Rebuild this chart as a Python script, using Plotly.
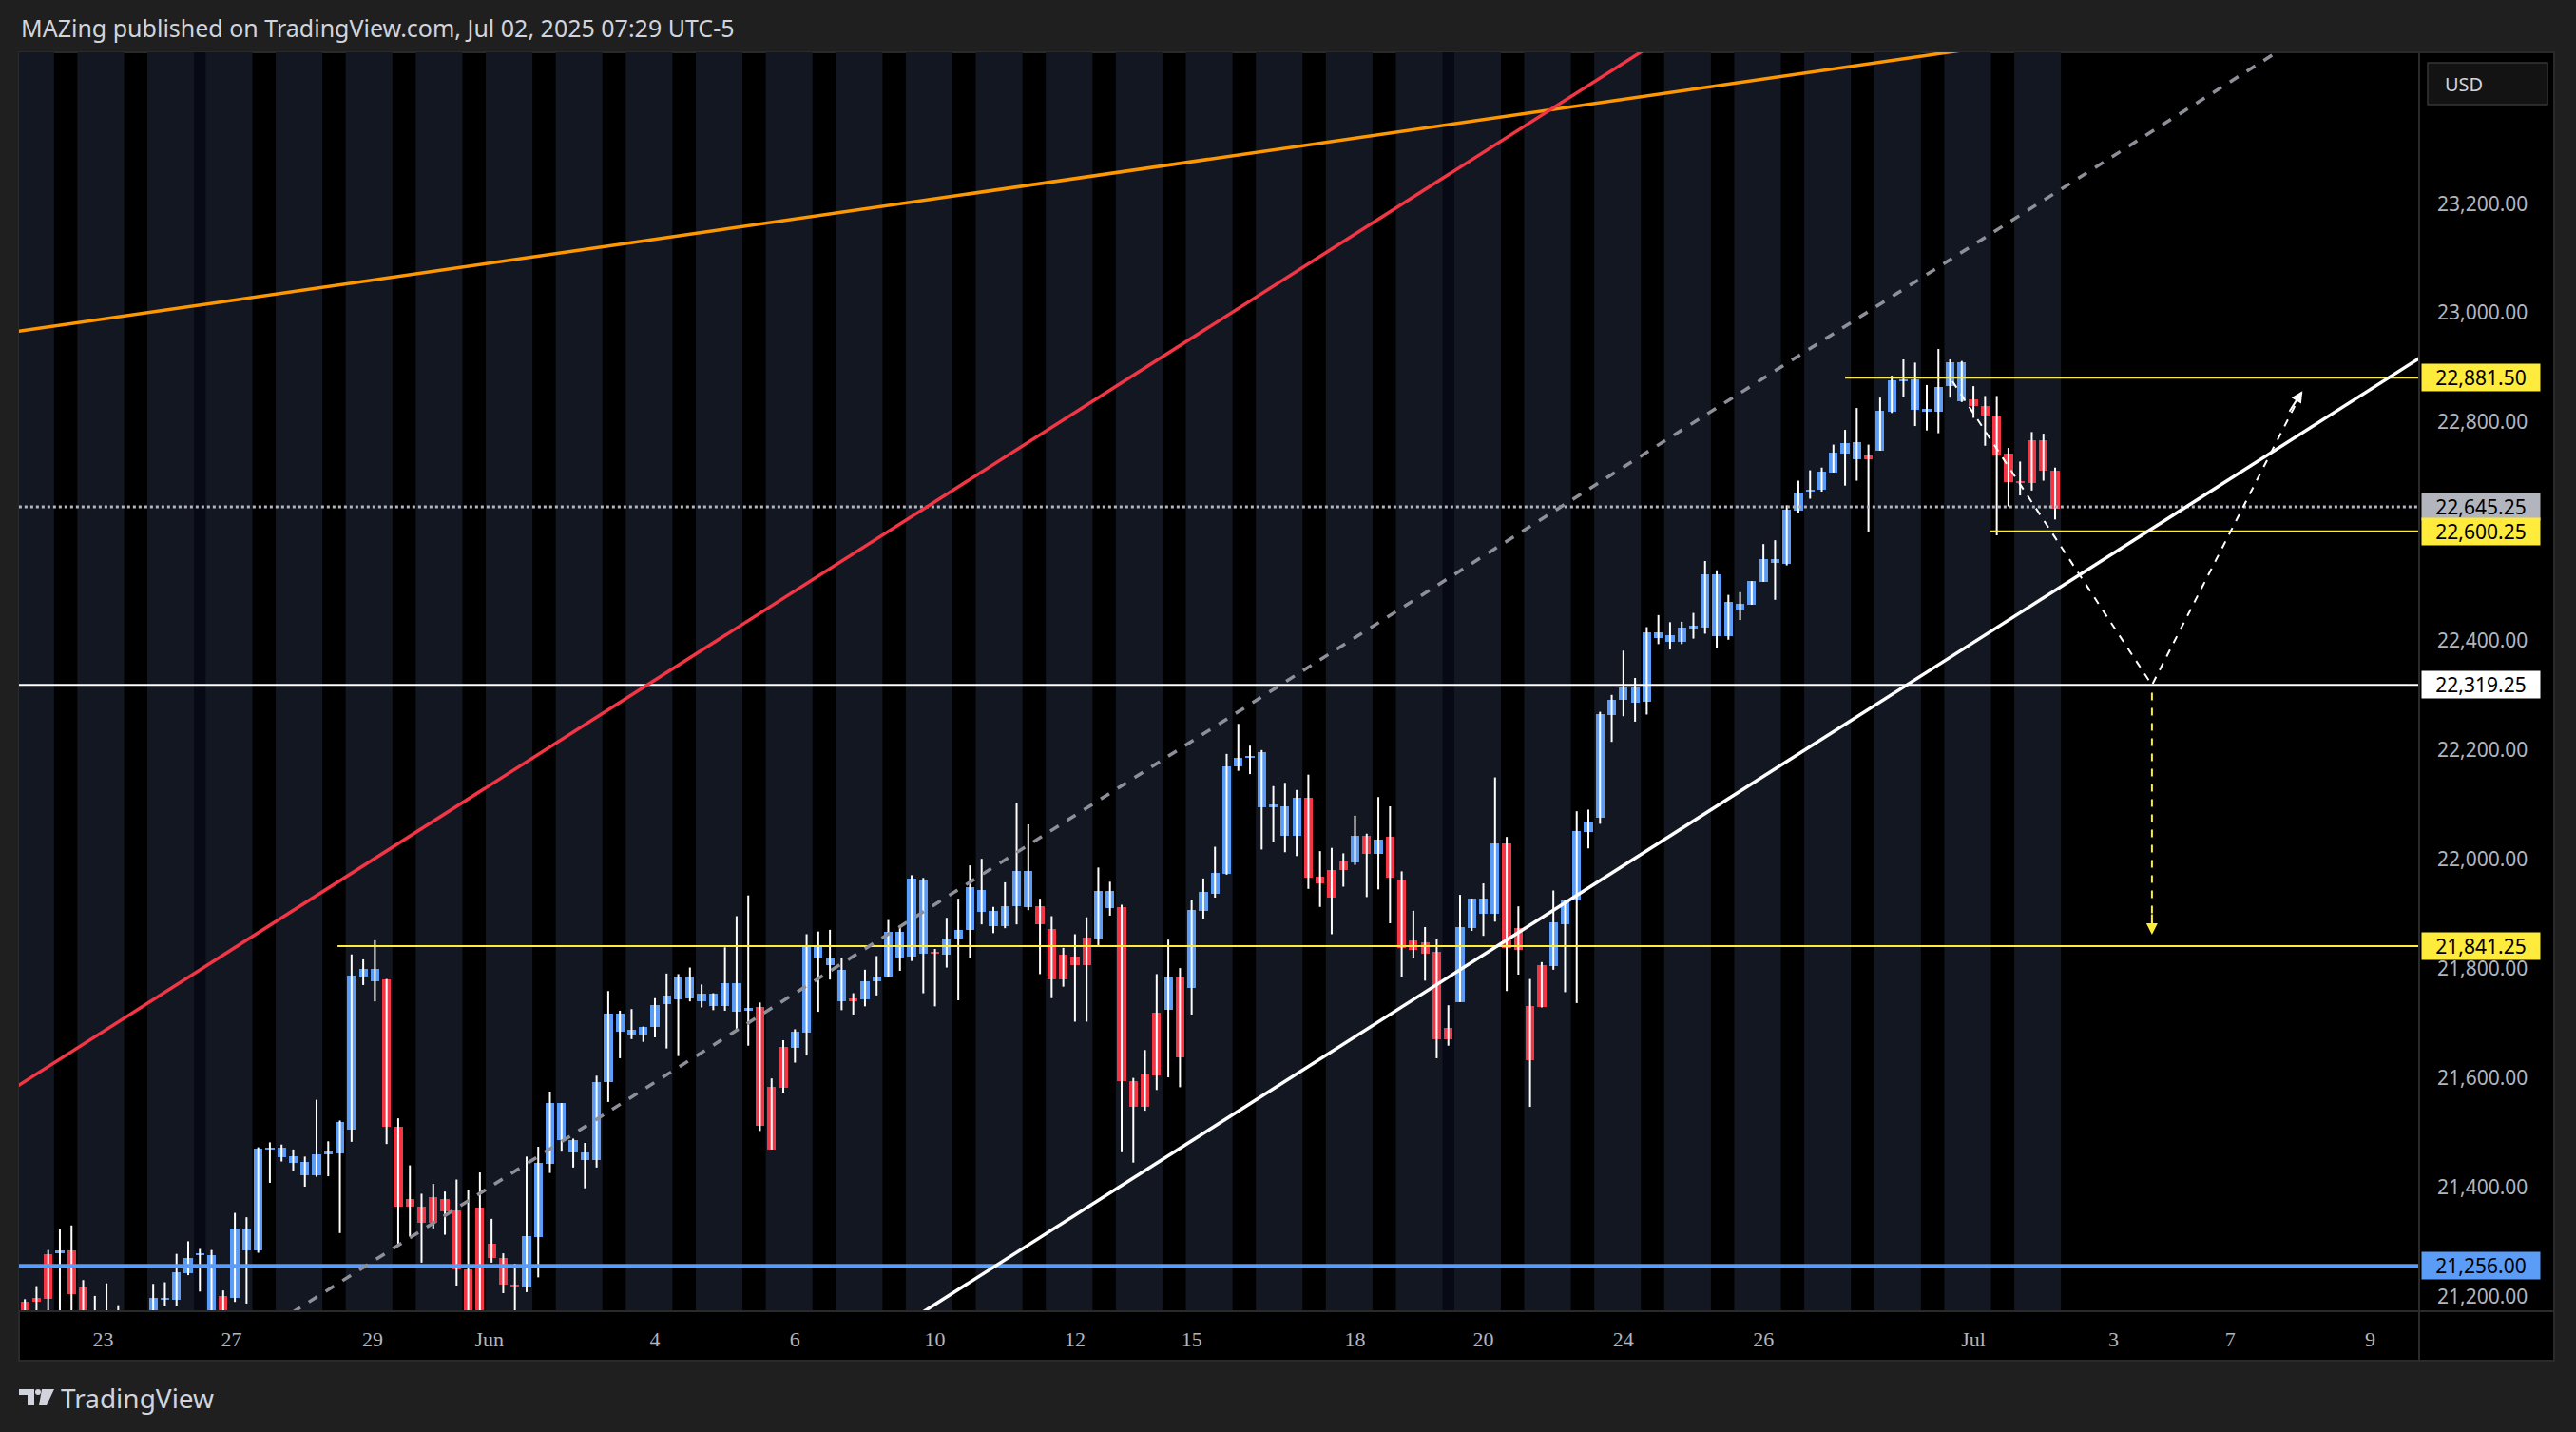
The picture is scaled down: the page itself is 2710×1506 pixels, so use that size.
import plotly.graph_objects as go

# 4h candles, NQ-style futures, May 22 -> Jul 2 2025
opens = [21190, 21197, 21278, 21279, 21285, 21216, 21170, 21173, 21173, 21140, 21100, 21150, 21194, 21194, 21242, 21276, 21170, 21200, 21198, 21285,
         21284, 21468, 21455, 21444, 21422, 21422, 21461, 21462, 21506, 21786, 21777, 21780, 21510, 21378, 21364, 21381, 21379, 21357, 21250, 21362,
         21296, 21271, 21222, 21216, 21309, 21443, 21486, 21463, 21449, 21449, 21592, 21684, 21680, 21680, 21694, 21735, 21743, 21746, 21741, 21731,
         21731, 21721, 21723, 21729, 21583, 21656, 21655, 21683, 21818, 21806, 21740, 21745, 21743, 21777, 21785, 21821, 21822, 21827, 21830, 21825,
         21855, 21870, 21904, 21878, 21878, 21915, 21913, 21915, 21872, 21826, 21822, 21857, 21854, 21911, 21913, 21595, 21606, 21720, 21725, 21783,
         21764, 21906, 21937, 21974, 22170, 22185, 22096, 22096, 22043, 22043, 22112, 21969, 21981, 21996, 21995, 22043, 22010, 22041, 21963, 21851,
         21849, 21830, 21691, 21739, 21874, 21901, 21901, 22029, 21874, 21731, 21807, 21804, 21881, 21924, 22050, 22076, 22264, 22292, 22287, 22289,
         22405, 22398, 22398, 22423, 22424, 22409, 22409, 22458, 22466, 22508, 22542, 22540, 22638, 22673, 22677, 22708, 22742, 22733, 22740, 22748,
         22820, 22875, 22823, 22819, 22819, 22866, 22839, 22841, 22830, 22810, 22742, 22693, 22767, 22767, 22712]
highs = [21195, 21219, 21285, 21323, 21330, 21230, 21201, 21224, 21184, 21160, 21165, 21223, 21226, 21278, 21301, 21287, 21285, 21211, 21353, 21345,
         21473, 21482, 21478, 21469, 21456, 21560, 21484, 21522, 21826, 21817, 21852, 21781, 21526, 21440, 21388, 21406, 21392, 21414, 21394, 21427,
         21342, 21279, 21260, 21456, 21474, 21575, 21554, 21489, 21481, 21604, 21759, 21723, 21726, 21694, 21746, 21791, 21790, 21802, 21771, 21755,
         21839, 21896, 21934, 21738, 21599, 21669, 21689, 21863, 21868, 21871, 21819, 21755, 21798, 21823, 21889, 21876, 21971, 21966, 21836, 21893,
         21928, 21989, 22001, 21913, 21958, 22104, 22064, 21928, 21896, 21838, 21863, 21894, 21985, 21959, 21917, 21600, 21651, 21790, 21853, 21801,
         21925, 21965, 22023, 22193, 22248, 22208, 22200, 22134, 22140, 22127, 22155, 22015, 22021, 22011, 22080, 22047, 22114, 22097, 21978, 21906,
         21876, 21855, 21733, 21935, 21928, 21956, 22150, 22041, 21914, 21781, 21812, 21943, 21925, 22088, 22091, 22270, 22301, 22382, 22332, 22425,
         22447, 22434, 22435, 22451, 22546, 22529, 22484, 22489, 22509, 22577, 22584, 22648, 22693, 22712, 22717, 22759, 22786, 22826, 22759, 22845,
         22885, 22915, 22909, 22868, 22934, 22915, 22912, 22866, 22848, 22848, 22753, 22728, 22782, 22779, 22717]
lows = [21100, 21170, 21170, 21170, 21170, 21100, 21100, 21100, 21100, 21080, 21060, 21130, 21183, 21183, 21239, 21209, 21150, 21140, 21190, 21187,
        21280, 21408, 21447, 21429, 21401, 21419, 21420, 21316, 21483, 21770, 21740, 21479, 21295, 21310, 21262, 21324, 21313, 21220, 21120, 21140,
        21262, 21206, 21170, 21208, 21235, 21426, 21465, 21436, 21398, 21436, 21556, 21636, 21671, 21666, 21674, 21654, 21640, 21740, 21729, 21724,
        21723, 21690, 21659, 21503, 21469, 21573, 21628, 21641, 21721, 21780, 21724, 21716, 21731, 21751, 21785, 21796, 21814, 21755, 21731, 21802,
        21742, 21819, 21881, 21865, 21874, 21881, 21907, 21790, 21746, 21767, 21703, 21703, 21842, 21897, 21464, 21445, 21540, 21578, 21601, 21583,
        21716, 21891, 21930, 21972, 22162, 22156, 22018, 22032, 22013, 22006, 21946, 21913, 21863, 21950, 21990, 21931, 21945, 21883, 21785, 21820,
        21778, 21636, 21659, 21739, 21869, 21860, 21886, 21759, 21789, 21547, 21729, 21798, 21757, 21737, 22020, 22065, 22215, 22262, 22252, 22265,
        22394, 22384, 22394, 22404, 22413, 22387, 22402, 22438, 22466, 22508, 22475, 22538, 22633, 22660, 22673, 22708, 22684, 22693, 22600, 22748,
        22817, 22846, 22793, 22785, 22780, 22845, 22837, 22808, 22757, 22593, 22646, 22666, 22675, 22693, 22622]
closes = [21150, 21191, 21196, 21285, 21205, 21150, 21150, 21140, 21140, 21120, 21150, 21198, 21198, 21244, 21271, 21278, 21275, 21160, 21325, 21325,
          21470, 21470, 21473, 21456, 21446, 21461, 21464, 21519, 21788, 21799, 21799, 21510, 21364, 21364, 21334, 21334, 21355, 21250, 21150, 21170,
          21270, 21222, 21218, 21310, 21444, 21554, 21554, 21486, 21463, 21593, 21717, 21717, 21688, 21694, 21734, 21751, 21785, 21785, 21755, 21755,
          21774, 21774, 21728, 21513, 21469, 21582, 21684, 21839, 21839, 21820, 21797, 21740, 21777, 21786, 21867, 21867, 21965, 21963, 21827, 21856,
          21871, 21949, 21944, 21906, 21915, 21979, 21979, 21881, 21780, 21780, 21806, 21806, 21943, 21943, 21594, 21548, 21548, 21604, 21783, 21637,
          21907, 21941, 21976, 22171, 22186, 22187, 22197, 22098, 22097, 22112, 21967, 21956, 21930, 21980, 22043, 22010, 22036, 21967, 21838, 21835,
          21827, 21671, 21671, 21876, 21928, 21928, 22029, 21838, 21835, 21633, 21729, 21885, 21925, 22051, 22070, 22265, 22292, 22314, 22314, 22416,
          22416, 22411, 22425, 22426, 22521, 22522, 22472, 22467, 22509, 22549, 22549, 22640, 22672, 22677, 22709, 22744, 22762, 22764, 22733, 22821,
          22876, 22879, 22879, 22824, 22865, 22910, 22910, 22829, 22813, 22740, 22690, 22688, 22688, 22711, 22642]

# overnight session candles (black background), weekend-ish darker candles
night_starts = [3, 9, 20, 26, 32, 38, 44, 50, 56, 62, 68, 74, 80, 86, 92, 98, 104, 110, 116,
                127, 133, 139, 145, 151, 157, 163, 169]
dark_days = [15, 122]

tick_pos = [6.7, 17.7, 29.8, 39.8, 54, 66, 78, 90, 100, 114, 125, 137, 149, 167, 179, 189, 201]
tick_text = ["23", "27", "29", "Jun", "4", "6", "10", "12", "15", "18", "20", "24", "26", "Jul", "3", "7", "9"]
price_ticks = [21200, 21400, 21600, 21800, 22000, 22200, 22400, 22800, 23000, 23200]

# drawings: (index, price) anchor pairs
orange_line = ([-1, 205], [22965, 23601])
red_line = ([-1, 150], [21580, 23634])
gray_dash = ([20, 205], [21131, 23640])
trend_line = ([74, 205.5], [21131, 22921])
projection = ([165.2, 182.3, 195.2], [22875, 22319, 22857])
target_drop = ([182.3, 182.3], [22305, 21862])

levels_yellow = [(26.8, 21841.25), (156, 22881.5), (168.4, 22600.25)]
level_white = 22319.25
level_blue = 21256.0
last_price = 22645.25

UP = "#5b9cf6"
DOWN = "#f23645"
NAVY = "#131722"
W, H = 2710, 1506
L, R, T, B = 20, 2545, 55, 1379
XMAX = 205.2


def px(x):
    return (x - L) / (R - L)


def py(y):
    return (B - y) / (B - T)


n = len(closes)
fig = go.Figure()

# wicks
wx, wy = [], []
for i in range(n):
    wx += [i, i, None]
    wy += [lows[i], highs[i], None]
fig.add_trace(go.Scatter(x=wx, y=wy, mode="lines", line=dict(color="white", width=2),
                         hoverinfo="skip", showlegend=False))

# bodies
base = [min(o, c) for o, c in zip(opens, closes)]
size = [max(abs(c - o), 4) for o, c in zip(opens, closes)]
colors = [UP if c >= o else DOWN for o, c in zip(opens, closes)]
fig.add_trace(go.Bar(x=list(range(n)), y=size, base=base, width=0.75,
                     marker=dict(color=colors, line=dict(width=0)), showlegend=False))


def line(xy, color, width, dash="solid"):
    fig.add_trace(go.Scatter(x=xy[0], y=xy[1], mode="lines", line=dict(color=color, width=width, dash=dash),
                             hoverinfo="skip", showlegend=False))


line(([-1, XMAX + 1], [level_blue] * 2), UP, 4)
line(([-1, XMAX + 1], [level_white] * 2), "white", 2)
line(([-1, XMAX + 1], [last_price] * 2), "#b2b5be", 3, "dot")
for x0, lv in levels_yellow:
    line(([x0, XMAX + 1], [lv, lv]), "#ffeb3b", 2)
line(orange_line, "#ff9800", 3.5)
line(red_line, "#f23645", 3.5)
line(gray_dash, "#8d9099", 3.5, "dash")
line(trend_line, "white", 3.5)
line(projection, "white", 2, "8px,8px")
line(target_drop, "#ffeb3b", 2, "8px,8px")

# background session bands
shapes = []
shapes.append(dict(type="rect", xref="paper", yref="paper", x0=px(L), x1=px(2687), y0=py(T), y1=py(1431),
                   fillcolor="black", line=dict(color="#2a2a2a", width=2), layer="below"))
night = set()
for s in night_starts:
    night.update([s, s + 1])
i = 0
while i < n:
    if i in night:
        i += 1
        continue
    j = i
    while j + 1 < n and (j + 1) not in night:
        j += 1
    shapes.append(dict(type="rect", xref="x", yref="paper", x0=i - 0.5, x1=j + 0.5, y0=0, y1=1,
                       fillcolor=NAVY, line=dict(width=0), layer="below"))
    i = j + 1
for d in dark_days:
    shapes.append(dict(type="rect", xref="x", yref="paper", x0=d - 0.5, x1=d + 0.5, y0=0, y1=1,
                       fillcolor="#070a14", line=dict(width=0), layer="below"))
# panel separators
shapes.append(dict(type="line", xref="paper", yref="paper", x0=1, x1=1, y0=py(T), y1=py(1431),
                   line=dict(color="#2a2a2a", width=2)))
shapes.append(dict(type="line", xref="paper", yref="paper", x0=0, x1=px(2687), y0=0, y1=0,
                   line=dict(color="#2a2a2a", width=2)))
# USD box
shapes.append(dict(type="rect", xref="paper", yref="paper", x0=px(2554), x1=px(2680), y0=py(66), y1=py(110),
                   fillcolor="#131313", line=dict(color="#363636", width=1.5)))
# TradingView logo mark
shapes.append(dict(type="path", xref="paper", yref="paper",
                   path=f"M {px(20)} {py(1461)} L {px(36)} {py(1461)} L {px(36)} {py(1478)} L {px(29)} {py(1478)} "
                        f"L {px(29)} {py(1467)} L {px(20)} {py(1467)} Z",
                   fillcolor="#d1d4dc", line=dict(width=0)))
shapes.append(dict(type="path", xref="paper", yref="paper",
                   path=f"M {px(44)} {py(1461)} L {px(57)} {py(1461)} L {px(49)} {py(1478)} L {px(41)} {py(1478)} Z",
                   fillcolor="#d1d4dc", line=dict(width=0)))
shapes.append(dict(type="circle", xref="paper", yref="paper", x0=px(37), x1=px(43), y0=py(1467), y1=py(1461),
                   fillcolor="#d1d4dc", line=dict(width=0)))

FONT = "Liberation Sans Narrow"
ann = []
ann.append(dict(xref="paper", yref="paper", x=px(62), y=py(1470), text="TradingView", showarrow=False,
                xanchor="left", yanchor="middle", font=dict(size=28, color="#d1d4dc", family="Noto Sans")))
ann.append(dict(xref="paper", yref="paper", x=px(2570), y=py(88), text="USD", showarrow=False,
                xanchor="left", yanchor="middle", font=dict(size=20, color="#d1d4dc", family="Noto Sans")))

labels = [(last_price, "#b2b5be", "black"), (22881.5, "#ffeb3b", "black"), (22600.25, "#ffeb3b", "black"),
          (level_white, "white", "black"), (21841.25, "#ffeb3b", "black"), (level_blue, UP, "black")]
for val, bg, fg in labels:
    ann.append(dict(xref="paper", yref="y", x=px(2547), y=val, text=f"{val:,.2f}", showarrow=False,
                    xanchor="left", yanchor="middle", bgcolor=bg, width=122, height=26, align="center",
                    font=dict(size=21, color=fg, family="Noto Sans"), borderpad=1))

fig.update_layout(
    width=W, height=H,
    margin=dict(l=L, r=W - R, t=T, b=H - B),
    paper_bgcolor="#1f1f1f", plot_bgcolor="black",
    title=dict(text="MAZing published on TradingView.com, Jul 02, 2025 07:29 UTC-5", x=22 / W, xanchor="left",
               y=1 - 30 / H, yanchor="middle", xref="container", yref="container",
               font=dict(size=25, color="#d1d4dc", family="Noto Sans")),
    shapes=shapes, annotations=ann, showlegend=False, bargap=0,
    xaxis=dict(range=[-0.5, XMAX], tickvals=tick_pos, ticktext=tick_text, showgrid=False, zeroline=False,
               tickfont=dict(size=22, color="#b2b5be", family=FONT), ticks="", ticklabelstandoff=14,
               fixedrange=True),
    yaxis=dict(range=[21173, 23477], side="right", tickvals=price_ticks, tickformat=",.2f", showgrid=False,
               zeroline=False, tickfont=dict(size=21, color="#b2b5be", family="Noto Sans"), ticks="",
               ticklabelstandoff=18),
    hovermode=False,
)

# arrow heads
fig.add_annotation(x=projection[0][-1], y=projection[1][-1], ax=projection[0][-1] - 1.2,
                   ay=projection[1][-1] - 40, axref="x", ayref="y", showarrow=True,
                   arrowhead=2, arrowsize=1.2, arrowwidth=2, arrowcolor="white", text="")
fig.add_annotation(x=target_drop[0][-1], y=target_drop[1][-1], ax=target_drop[0][-1],
                   ay=target_drop[1][-1] + 40, axref="x", ayref="y", showarrow=True,
                   arrowhead=2, arrowsize=1.2, arrowwidth=2, arrowcolor="#ffeb3b", text="")

fig.write_html("out.html", config={"displayModeBar": False},
               post_script="document.body.style.margin='0';document.body.style.background='#1f1f1f';")
